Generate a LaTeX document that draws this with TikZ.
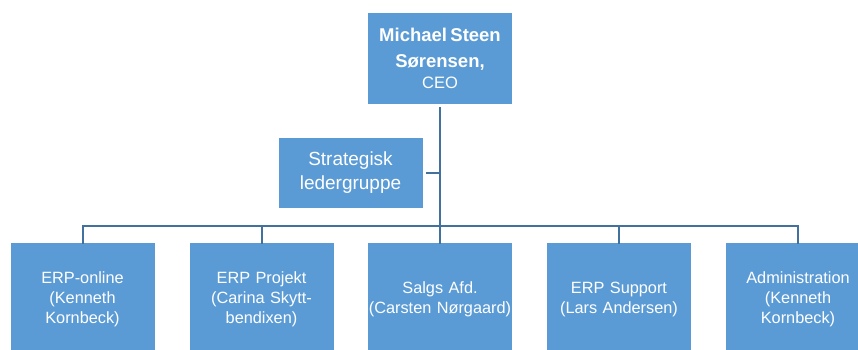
\documentclass[tikz,border=0pt]{standalone}
\usepackage{fontspec}
\setmainfont{Liberation Sans}
\definecolor{boxblue}{HTML}{5B9BD5}
\definecolor{linkblue}{HTML}{41719C}
\begin{document}
\begin{tikzpicture}[x=1pt,y=-1pt,
  orgbox/.style={draw=white, line width=0.6pt, fill=boxblue, text=white, align=center, inner sep=0pt},
  leaf/.style={orgbox, minimum width=145pt, minimum height=113pt, text width=145pt, font=\fontsize{16.3}{20}\selectfont},
  link/.style={draw=linkblue, line width=2pt}]
\useasboundingbox (0,0) rectangle (858,349);
\node[orgbox, minimum width=145pt, minimum height=92pt, text width=145pt] (ceo) at (440,58)
  {{\fontsize{18.5}{26}\selectfont\bfseries Michael Steen\par Sørensen,\par}{\fontsize{16.5}{21}\selectfont CEO\par}};
\node[orgbox, minimum width=145pt, minimum height=71pt, text width=145pt, font=\fontsize{19}{24}\selectfont] (strat) at (350.5,173) {Strategisk\\ ledergruppe};
\node[leaf] (b1) at (82.5,299) {ERP-online\\ (Kenneth\\ Kornbeck)};
\node[leaf] (b2) at (261.5,299) {ERP Projekt\\ (Carina Skytt-\\ bendixen)};
\node[leaf] (b3) at (440,299) {Salgs Afd.\\ (Carsten Nørgaard)};
\node[leaf] (b4) at (619,299) {ERP Support\\ (Lars Andersen)};
\node[leaf] (b5) at (798,299) {Administration\\ (Kenneth\\ Kornbeck)};
\coordinate (bus) at (440,226);
\draw[link] (ceo.south) ++(0,3) -- ([yshift=-2pt]b3.north);
\draw[link] ([yshift=-2pt]b1.north) |- (bus) -| ([yshift=-2pt]b5.north);
\draw[link] ([yshift=-2pt]b2.north) -- (b2.north |- bus);
\draw[link] ([yshift=-2pt]b4.north) -- (b4.north |- bus);
\draw[link] ([xshift=3pt]strat.east) -- (strat.east -| ceo.south);
\end{tikzpicture}
\end{document}
